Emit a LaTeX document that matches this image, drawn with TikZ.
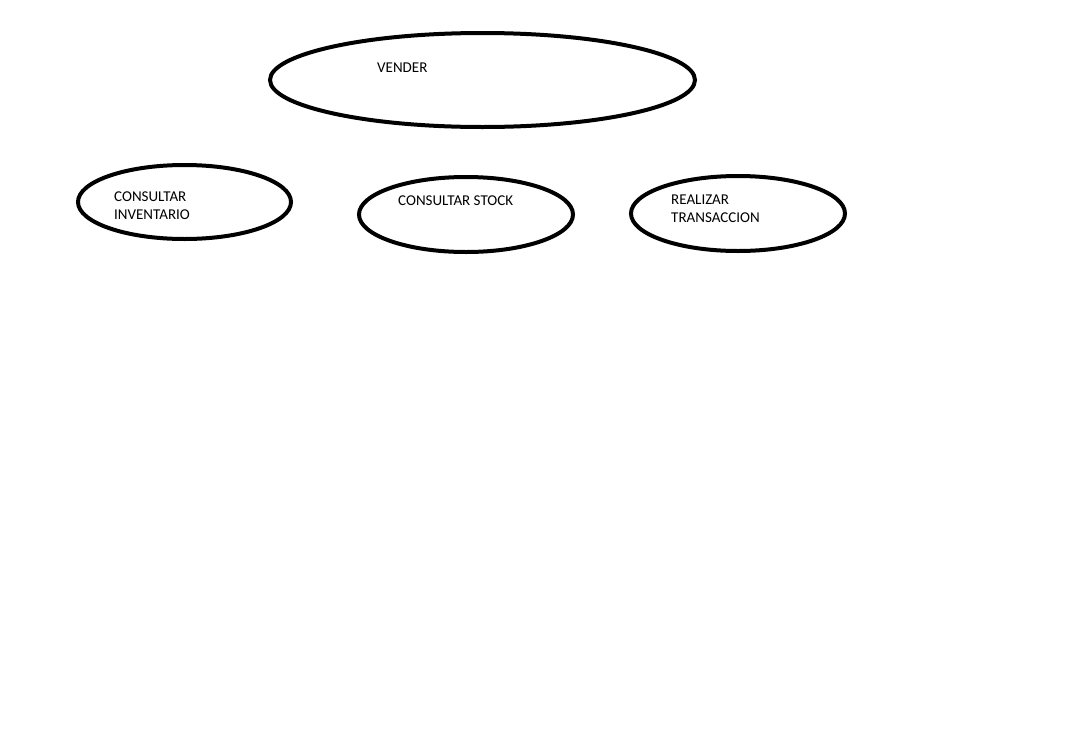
\documentclass[tikz,border=0pt]{standalone}
\usepackage{fontspec}
\setmainfont{Carlito}
\usetikzlibrary{shapes.geometric}

\begin{document}
\begin{tikzpicture}[
    x=1pt, y=-1pt,
    font=\fontsize{15}{18}\selectfont,
    usecase/.style={
        draw, ellipse, line width=4pt,
        inner sep=0pt, minimum width=214pt, minimum height=75pt
    },
    caselabel/.style={
        anchor=west, align=left, inner sep=0pt
    }
]
\useasboundingbox (0,0) rectangle (1087,742);

% --- main use case ---
\node[usecase, minimum width=425pt, minimum height=94pt] (vender) at (482.5,80) {};
\node[caselabel] (lvender) at (377,68) {VENDER};

% --- included use cases ---
\node[usecase, minimum width=213pt, minimum height=74pt] (inventario) at (184.5,202) {};
\node[usecase] (stock) at (466,214.5) {};
\node[usecase] (transaccion) at (738,213.5) {};

\node[caselabel] (linventario) at (114,206) {CONSULTAR\\INVENTARIO};
\node[caselabel] (lstock) at (398,201) {CONSULTAR STOCK};
\node[caselabel] (ltransaccion) at (671,209) {REALIZAR\\TRANSACCION};

\end{tikzpicture}
\end{document}
